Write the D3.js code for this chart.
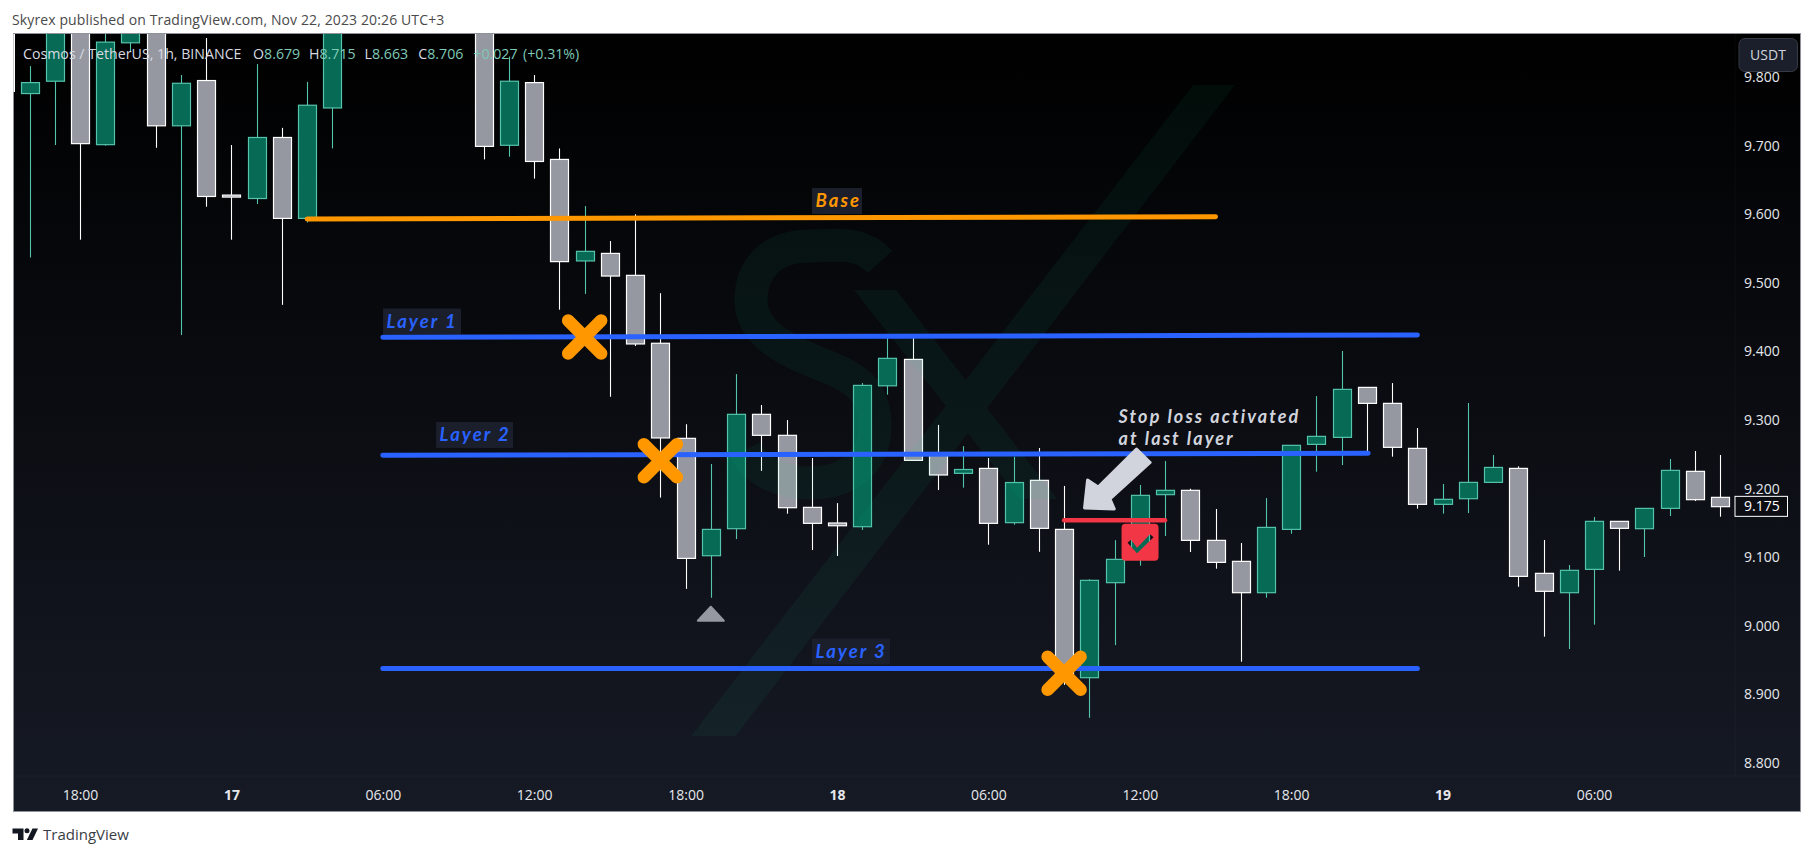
<!DOCTYPE html>
<html>
<head>
<meta charset="utf-8">
<style>html,body{margin:0;padding:0;background:#fff;}svg{display:block;}text{font-family:"Open Sans",sans-serif;}</style>
<script src="https://cdn.jsdelivr.net/npm/d3@7"></script>
</head>
<body>
<svg id="c" width="1814" height="856"></svg>
<script>
// hour index: 0 = Nov 16 18:00
const hours  = [-2,-1,0,1,2,3,4,5,6,7,8,9,10,16,17,18,19,20,21,22,23,24,25,26,27,28,29,30,31,32,33,34,35,36,37,38,39,40,41,42,43,44,45,46,47,48,49,50,51,52,53,54,55,56,57,58,59,60,61,62,63,64,65];
const opens  = [9.776,9.794,9.90,9.7015,9.850,9.90,9.729,9.795,9.628,9.623,9.712,9.594,9.755,9.90,9.7006,9.792,9.68,9.532,9.543,9.511,9.412,9.2734,9.1023,9.1417,9.3084,9.2778,9.1728,9.150,9.1446,9.350,9.3885,9.2495,9.2224,9.2296,9.1505,9.2122,9.1407,8.9245,9.063,9.105,9.1913,9.1976,9.1247,9.0941,9.0484,9.1407,9.2646,9.2748,9.3477,9.3244,9.2588,9.1772,9.1854,9.2092,9.2296,9.0766,9.0484,9.0824,9.1524,9.1417,9.1713,9.2253,9.1874];
const highs  = [9.816,9.92,9.92,9.90,9.92,9.92,9.803,9.857,9.701,9.819,9.726,9.793,9.90,9.92,9.83,9.803,9.696,9.612,9.561,9.60,9.485,9.294,9.236,9.367,9.322,9.30,9.2447,9.179,9.354,9.42,9.4225,9.293,9.262,9.2447,9.2466,9.2593,9.204,9.068,9.125,9.2054,9.2403,9.20,9.1704,9.1208,9.1864,9.2637,9.335,9.4007,9.3477,9.354,9.2884,9.2068,9.3249,9.249,9.2326,9.1252,9.0887,9.1587,9.1524,9.1713,9.2433,9.2549,9.2491];
const lows   = [9.537,9.701,9.563,9.70,9.837,9.697,9.424,9.611,9.563,9.615,9.468,9.588,9.696,9.680,9.684,9.652,9.461,9.484,9.334,9.408,9.187,9.054,9.041,9.1266,9.226,9.1636,9.1106,9.102,9.14,9.337,9.2413,9.198,9.2015,9.1184,9.1475,9.108,8.914,8.866,8.972,9.0878,9.131,9.1077,9.0834,8.9478,9.0411,9.1344,9.2248,9.2345,9.2549,9.2467,9.1709,9.1636,9.1645,9.2092,9.0571,8.9843,8.9663,9.0018,9.0805,9.1004,9.1602,9.182,9.1592];
const closes = [9.792,9.90,9.703,9.851,9.90,9.729,9.791,9.626,9.626,9.712,9.594,9.759,9.90,9.699,9.794,9.677,9.531,9.546,9.51,9.411,9.274,9.0984,9.1407,9.3084,9.2778,9.1723,9.1495,9.146,9.3506,9.39,9.2413,9.22,9.228,9.1495,9.209,9.1422,8.925,9.0664,9.097,9.1903,9.1976,9.1247,9.0926,9.0484,9.1436,9.2632,9.2763,9.3448,9.3244,9.2603,9.1772,9.1845,9.2092,9.231,9.0722,9.0504,9.081,9.1524,9.1422,9.1713,9.2267,9.184,9.1738];

const priceTicks = [8.8,8.9,9.0,9.1,9.2,9.3,9.4,9.5,9.6,9.7,9.8];
const timeTickHours = [0,6,12,18,24,30,36,42,48,54,60];
const timeTickLabels = ["18:00","17","06:00","12:00","18:00","18","06:00","12:00","18:00","19","06:00"];
const boldTimeLabels = ["17","18","19"];

const levelNames  = ["Base","Layer 1","Layer 2","Layer 3","Stop"];
const levelFrom   = [9.0,12.0,12.0,12.0,39.0];
const levelTo     = [45.0,53.0,51.05,53.0,43.0];
const levelStart  = [9.593,9.4207,9.2487,8.938,9.154];
const levelEnd    = [9.5966,9.424,9.2516,8.938,9.154];
const levelColors = ["#ff9800","#2962ff","#2962ff","#2962ff","#f23645"];
const levelWidths = [5,5,5,5,4.5];

const labelNames  = ["Base","Layer 1","Layer 2","Layer 3"];
const labelHours  = [29.01,12.01,14.11,29.01];
const labelPrices = [9.6194,9.4437,9.2783,8.9626];
const labelColors = ["#ff9800","#2962ff","#2962ff","#2962ff"];
const labelWidths = [50,78,77,78];

const crossHours  = [20,23,39];
const crossPrices = [9.4211,9.2408,8.931];

const noteLines  = ["Stop loss activated","at last layer"];
const notePrices = [9.3049,9.2732];
const noteHour   = 41.16;
const arrowHours  = [41.87,40.35,39.93,39.81,40.99,40.82,42.41];
const arrowPrices = [9.2579,9.2025,9.2127,9.1719,9.1704,9.1850,9.2382];

const lastPrice = 9.175;
const markerHour = 25, markerPrice = 9.006;
const checkHour = 42.01, checkPrice = 9.1219;

const legendName = "Cosmos / TetherUS, 1h, BINANCE";
const legendKeys = ["O","H","L","C"];
const legendValues = ["8.679","8.715","8.663","8.706"];
const legendStarts = [253,309,364.6,418.3];
const legendChange = ["+0.027","(+0.31%)"];
const legendChangeStarts = [473.3,523];

const L=14,T=34,R=1800,B=811,AX=1735,AY=776;
const x=d3.scaleLinear().domain([0,60]).range([80,1594]);
const y=d3.scaleLinear().domain([8.8,9.7]).range([763.1,145.7]);
const svg=d3.select("#c");
const defs=svg.append("defs");
const g=defs.append("linearGradient").attr("id","bg").attr("x1",0).attr("y1",0).attr("x2",0).attr("y2",1);
g.append("stop").attr("offset",0).attr("stop-color","#000");
g.append("stop").attr("offset",1).attr("stop-color","#161a25");
defs.append("clipPath").attr("id","plot").append("rect").attr("x",L).attr("y",T).attr("width",R-L).attr("height",B-T);

svg.append("text").attr("x",12).attr("y",25).attr("font-size",14).attr("letter-spacing",.12).attr("fill","#4a4a4a")
  .text("Skyrex published on TradingView.com, Nov 22, 2023 20:26 UTC+3");
svg.append("rect").attr("x",L).attr("y",T).attr("width",R-L).attr("height",B-T).attr("fill","url(#bg)");
svg.append("line").attr("x1",AX).attr("x2",AX).attr("y1",T).attr("y2",AY).attr("stroke","#fff").attr("stroke-opacity",.035);
svg.append("line").attr("x1",L).attr("x2",R).attr("y1",AY).attr("y2",AY).attr("stroke","#fff").attr("stroke-opacity",.035);

const plot=svg.append("g").attr("clip-path","url(#plot)");

const candles=hours.map((h,i)=>({h,o:opens[i],hi:highs[i],lo:lows[i],c:closes[i]}));
const GREEN="#066a55",GREENB="#55c4ac",GREY="#9598a1",GREYB="#ffffff";
const isUp=d=>d.c>d.o;
const cg=plot.append("g").selectAll("g").data(candles).join("g");
cg.append("line").attr("x1",d=>Math.round(x(d.h))+.5).attr("x2",d=>Math.round(x(d.h))+.5)
  .attr("y1",d=>y(d.hi)).attr("y2",d=>y(d.lo)).attr("stroke",d=>isUp(d)?GREENB:GREYB).attr("stroke-width",1.1);
cg.append("rect").attr("x",d=>Math.round(x(d.h))-8.5).attr("width",18)
  .attr("y",d=>y(Math.max(d.o,d.c))).attr("height",d=>Math.max(2,y(Math.min(d.o,d.c))-y(Math.max(d.o,d.c))))
  .attr("fill",d=>isUp(d)?GREEN:GREY).attr("stroke",d=>isUp(d)?GREENB:GREYB).attr("stroke-width",1.2);

// watermark
const wm=plot.append("g").attr("opacity",.06).attr("fill","#17c98f");
wm.append("path").attr("d","M1193,85 L1235,85 L735.5,736 L691.5,736 Z");
wm.append("path").attr("d","M854,290 L896,290 L1057,499 L1020,499 Z");
wm.append("path").attr("fill","none").attr("stroke","#17c98f").attr("stroke-width",33)
  .attr("d","M880,262 C860,240 835,246 810,246 C770,246 751,270 751,300 C751,340 800,355 835,370 C870,385 875,405 875,425 C875,465 845,483 810,483 C780,483 755,470 745,450");

const NOTE_FONT='Lato,"Open Sans",sans-serif';
// level lines
const lev=levelNames.map((n,i)=>({n,a:levelFrom[i],b:levelTo[i],s:levelStart[i],e:levelEnd[i],c:levelColors[i],w:levelWidths[i]}));
// labels backgrounds
const labels=labelNames.map((n,i)=>({n,h:labelHours[i],p:labelPrices[i],c:labelColors[i],w:labelWidths[i]}));
const lb=plot.append("g").selectAll("g").data(labels).join("g");
lb.append("rect").attr("x",d=>x(d.h)).attr("y",d=>y(d.p)-13).attr("width",d=>d.w).attr("height",26).attr("fill","#1b1f2c");
lb.append("text").attr("x",d=>x(d.h)+3.5).attr("y",d=>y(d.p)+6.5).attr("font-size",18.5).attr("font-style","italic").attr("font-weight",700)
  .style("font-family",NOTE_FONT).attr("fill",d=>d.c).attr("letter-spacing",2).text(d=>d.n);

plot.append("g").selectAll("line").data(lev).join("line")
  .attr("x1",d=>x(d.a)).attr("x2",d=>x(d.b)).attr("y1",d=>y(d.s)).attr("y2",d=>y(d.e))
  .attr("stroke",d=>d.c).attr("stroke-width",d=>d.w).attr("stroke-linecap","round");

// crosses
const arm=16.5;
plot.append("g").selectAll("path").data(crossHours.map((h,i)=>({h,p:crossPrices[i]}))).join("path")
  .attr("d",d=>{const X=x(d.h),Y=y(d.p);return `M${X-arm},${Y-arm}L${X+arm},${Y+arm}M${X+arm},${Y-arm}L${X-arm},${Y+arm}`;})
  .attr("stroke","#ff9800").attr("stroke-width",12.5).attr("stroke-linecap","round").attr("fill","none");

// arrow
const arrowPts=arrowHours.map((h,i)=>[x(h),y(arrowPrices[i])]);
plot.append("path").attr("d",d3.line()(arrowPts)+"Z").attr("fill","#d1d4dc").attr("stroke","#d1d4dc").attr("stroke-width",3).attr("stroke-linejoin","round");

// note
plot.append("g").selectAll("text").data(noteLines.map((t,i)=>({t,p:notePrices[i]}))).join("text")
  .attr("x",x(noteHour)).attr("y",d=>y(d.p)+6.5).attr("font-size",18).attr("font-style","italic").attr("font-weight",700)
  .style("font-family",NOTE_FONT).attr("fill","#d1d4dc").attr("letter-spacing",2.1).text(d=>d.t);

// check badge: rounded box with a check-shaped window
(function(){
  const X=x(checkHour),Y=y(checkPrice),w=18.5,h=18.5,r=4;
  const box=`M${X-w+r},${Y-h}H${X+w-r}Q${X+w},${Y-h} ${X+w},${Y-h+r}V${Y+h-r}Q${X+w},${Y+h} ${X+w-r},${Y+h}H${X-w+r}Q${X-w},${Y+h} ${X-w},${Y+h-r}V${Y-h+r}Q${X-w},${Y-h} ${X-w+r},${Y-h}Z`;
  const chk=[[-12.5,.5],[-9,-2.5],[-3,5.5],[10,-8],[13.5,-5],[-3,11]].map(p=>[X+p[0],Y+p[1]]);
  plot.append("path").attr("d",box+d3.line()(chk)+"Z").attr("fill","#f23645").attr("fill-rule","evenodd");
})();

// signal marker
plot.append("path").datum({h:markerHour,p:markerPrice})
  .attr("d",d=>{const X=x(d.h),Y=y(d.p);return `M${X-13},${Y-1}L${X},${Y-15}L${X+13},${Y-1}Z`;})
  .attr("fill","#9598a1").attr("stroke","#9598a1").attr("stroke-width",2).attr("stroke-linejoin","round");

// axes
const ya=svg.append("g").attr("transform",`translate(${AX+9},0)`)
  .call(d3.axisRight(y).tickValues(priceTicks).tickSize(0).tickPadding(0).tickFormat(d3.format(".3f")));
ya.select(".domain").remove();
ya.selectAll("text").attr("font-size",14).attr("fill","#e6e7ec").style("font-family",'"Open Sans",sans-serif');

const xa=svg.append("g").attr("transform",`translate(0,${795})`)
  .call(d3.axisBottom(x).tickValues(timeTickHours).tickSize(0).tickPadding(0).tickFormat((d,i)=>timeTickLabels[i]));
xa.select(".domain").remove();
xa.selectAll("text").attr("dy",".35em").attr("y",0).attr("font-size",14).attr("fill","#e6e7ec")
  .style("font-family",'"Open Sans",sans-serif')
  .attr("font-weight",d=>boldTimeLabels.includes(timeTickLabels[timeTickHours.indexOf(d)])?700:400);

// last price tag
svg.append("rect").attr("x",AX).attr("y",y(lastPrice)-9.5).attr("width",52.5).attr("height",20).attr("fill","#0c0e14").attr("stroke","#fff").attr("stroke-width",1);
svg.append("text").attr("x",AX+9).attr("y",y(lastPrice)+5).attr("font-size",14).attr("fill","#fff").text(d3.format(".3f")(lastPrice));

// currency button
svg.append("rect").attr("x",1739).attr("y",38.5).attr("width",58.5).attr("height",33).attr("rx",6).attr("fill","#1b1f2b").attr("stroke","#363a45");
svg.append("text").attr("x",1768).attr("y",60).attr("text-anchor","middle").attr("font-size",14).attr("fill","#d1d4dc").text("USDT");

// legend
const lt=svg.append("text").attr("x",23).attr("y",59).attr("font-size",14.2);
lt.append("tspan").attr("fill","#d8dae2").text(legendName);
legendValues.forEach((v,i)=>{
  lt.append("tspan").attr("x",legendStarts[i]).attr("fill","#d8dae2").text(legendKeys[i]);
  lt.append("tspan").attr("fill","#7fc9b7").text(v);
});
legendChange.forEach((v,i)=>{
  lt.append("tspan").attr("x",legendChangeStarts[i]).attr("fill","#7fc9b7").text(v);
});

// frame
svg.append("rect").attr("x",L-.5).attr("y",T-.5).attr("width",R-L+1).attr("height",B-T+1).attr("fill","none").attr("stroke","#8f929b");
svg.append("rect").attr("x",L-.5).attr("y",T).attr("width",1.5).attr("height",58).attr("fill","#fff");

// TradingView brand
const brand=svg.append("g").attr("fill","#131722");
brand.append("path").attr("d","M12.5,828.5H23.5V840H18V833.5H12.5Z");
brand.append("circle").attr("cx",27).attr("cy",830.8).attr("r",2.5);
brand.append("path").attr("d","M32.5,828.5H38L32.5,840H26.8Z");
svg.append("text").attr("x",43).attr("y",840).attr("font-size",15).attr("fill","#3a3d46").text("TradingView");
</script>
</body>
</html>
